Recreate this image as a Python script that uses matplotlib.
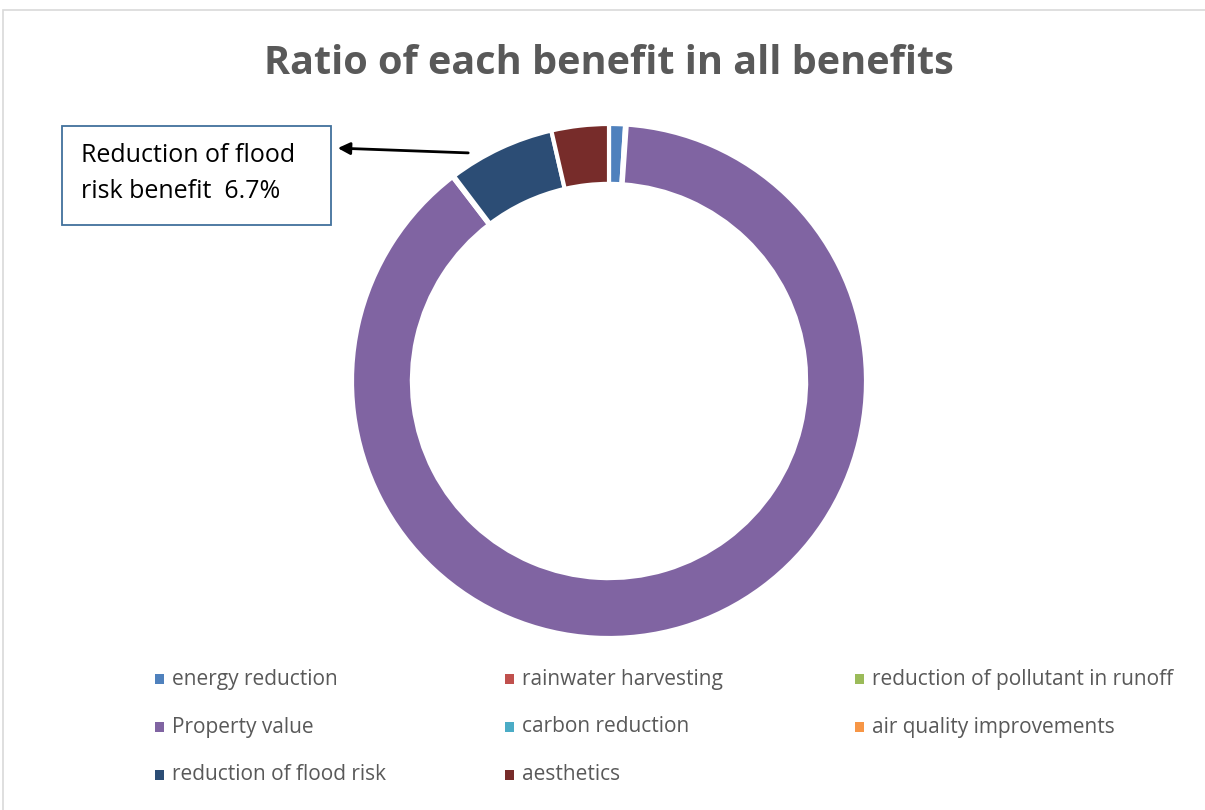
import matplotlib.pyplot as plt
from matplotlib.patches import Rectangle

plt.rcParams['font.family'] = ['Open Sans', 'DejaVu Sans']

labels = ["energy reduction", "rainwater harvesting", "reduction of pollutant in runoff",
          "Property value", "carbon reduction", "air quality improvements",
          "reduction of flood risk", "aesthetics"]
shares = [1.0, 0.05, 0.05, 88.4, 0.05, 0.05, 6.7, 3.6]
colors = ["#4F81BD", "#C0504D", "#9BBB59", "#8064A2", "#4BACC6", "#F79646", "#2C4D75", "#772C2A"]

W, H = 1205, 810
fig = plt.figure(figsize=(W / 100, H / 100), dpi=100)

# chart area border
fig.patches.append(Rectangle((3 / W, -0.01), 1.1, 1 - 10 / H + 0.01, transform=fig.transFigure,
                             fill=False, edgecolor="#D9D9D9", linewidth=1.2))

fig.text(609 / W, 1 - 64 / H, "Ratio of each benefit in all benefits", ha="center", va="center",
         fontsize=28.5, fontweight="bold", color="#595959")

# donut
cx, cy, r = 609, 381, 257
ax = fig.add_axes([(cx - r) / W, 1 - (cy + r) / H, 2 * r / W, 2 * r / H])
ax.pie(shares, colors=colors, startangle=90, counterclock=False, radius=1,
       wedgeprops=dict(width=0.233, edgecolor="white", linewidth=3))
ax.set_xlim(-1, 1)
ax.set_ylim(-1, 1)
ax.set_aspect("equal")
ax.axis("off")

# callout
fig.patches.append(Rectangle((62 / W, 1 - 225 / H), 269 / W, 99 / H, transform=fig.transFigure,
                             fill=True, facecolor="white", edgecolor="#41719C", linewidth=1.3))
fig.text(81 / W, 1 - 156 / H, "Reduction of flood", ha="left", va="center", fontsize=18, color="black")
fig.text(81 / W, 1 - 191 / H, "risk benefit  6.7%", ha="left", va="center", fontsize=18, color="black")
fig.add_artist(plt.Annotation("", xy=(335 / W, 1 - 148 / H), xytext=(471 / W, 1 - 153 / H),
                              xycoords="figure fraction", textcoords="figure fraction",
                              arrowprops=dict(arrowstyle="-|>", color="black", lw=2, mutation_scale=18)))

# legend
for i, (lab, col) in enumerate(zip(labels, colors)):
    row, c = divmod(i, 3)
    x0 = 155 + c * 350
    y0 = 679 + row * 48
    fig.patches.append(Rectangle((x0 / W, 1 - (y0 + 5) / H), 9 / W, 10 / H,
                                 transform=fig.transFigure, facecolor=col, edgecolor="none"))
    fig.text((x0 + 17) / W, 1 - y0 / H, lab, ha="left", va="center", fontsize=15, color="#595959")

fig.savefig("out.png", dpi=100)
